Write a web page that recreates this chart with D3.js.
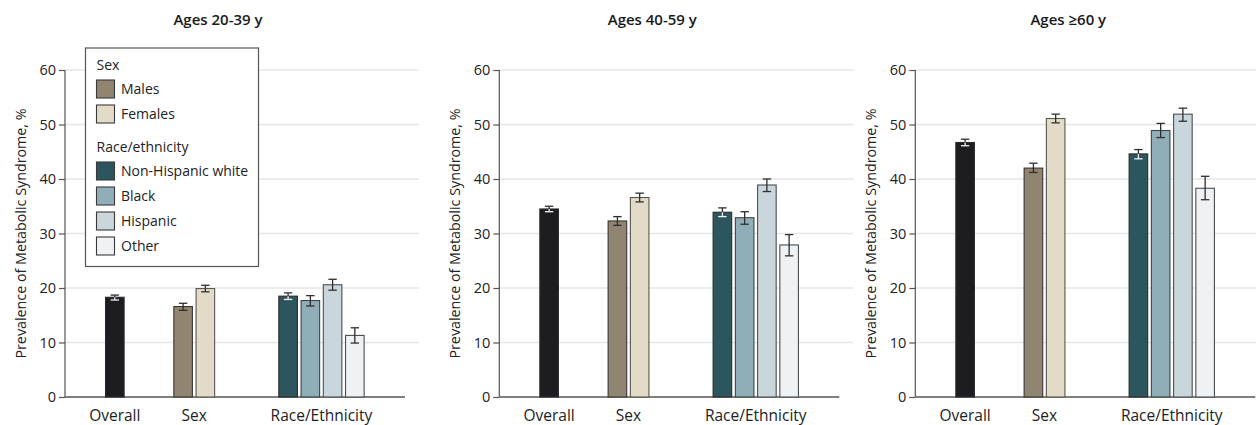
<!DOCTYPE html>
<html>
<head>
<meta charset="utf-8">
<script src="https://cdn.jsdelivr.net/npm/d3@7"></script>
<style>
  html, body { margin: 0; padding: 0; background: #fff; }
  svg { display: block; font-family: "Open Sans", sans-serif; }
</style>
</head>
<body>
<svg id="chart" width="1256" height="425"></svg>
<script>
// ---- data ----
const panelTitles = ["Ages 20-39 y", "Ages 40-59 y", "Ages \u226560 y"];
const categories = ["Overall", "Males", "Females", "Non-Hispanic white", "Black", "Hispanic", "Other"];
const categoryGroups = ["Overall", "Sex", "Sex", "Race/Ethnicity", "Race/Ethnicity", "Race/Ethnicity", "Race/Ethnicity"];
const groupLabels = ["Overall", "Sex", "Race/Ethnicity"];
const yTicks = [0, 10, 20, 30, 40, 50, 60];

const values20to39 = [18.3, 16.6, 19.9, 18.5, 17.7, 20.6, 11.3];
const lower20to39  = [17.8, 15.9, 19.3, 17.9, 16.7, 19.6, 9.9];
const upper20to39  = [18.7, 17.2, 20.5, 19.1, 18.6, 21.6, 12.7];

const values40to59 = [34.5, 32.3, 36.6, 33.9, 32.9, 38.9, 27.9];
const lower40to59  = [34.0, 31.5, 35.8, 33.1, 31.7, 37.7, 25.9];
const upper40to59  = [35.0, 33.1, 37.4, 34.7, 34.0, 40.0, 29.8];

const values60plus = [46.7, 42.0, 51.1, 44.6, 48.9, 51.9, 38.3];
const lower60plus  = [46.1, 41.2, 50.3, 43.7, 47.6, 50.6, 36.2];
const upper60plus  = [47.3, 42.9, 51.9, 45.4, 50.2, 53.0, 40.5];

const legendSexItems = ["Males", "Females"];
const legendRaceItems = ["Non-Hispanic white", "Black", "Hispanic", "Other"];

// ---- styles / layout ----
const colors = {
  "Overall": "#1d1c21",
  "Males": "#918470",
  "Females": "#e2dbc8",
  "Non-Hispanic white": "#2c555d",
  "Black": "#8faeb7",
  "Hispanic": "#c9d7dd",
  "Other": "#eef2f5"
};
const darkBars = new Set(["Overall", "Non-Hispanic white"]);
const strokeCol = { "Overall": "#2a2a2a", "Males": "#3a3630", "Females": "#5a5650", "Non-Hispanic white": "#2a2a2a", "Black": "#3d4447", "Hispanic": "#4a4f52", "Other": "#4a4c4e" };
const textCol = "#222";

const panelX = [65, 499.3, 915.3];
const plotW = 347;
const yTop = 70, yBottom = 397;
const slotCount = 15.6;
const groupStartSlot = { "Overall": 1.8, "Sex": 4.87, "Race/Ethnicity": 9.59 };
const barFrac = 0.88;

const panelData = [
  { values: values20to39, lower: lower20to39, upper: upper20to39 },
  { values: values40to59, lower: lower40to59, upper: upper40to59 },
  { values: values60plus, lower: lower60plus, upper: upper60plus }
];

const svg = d3.select("#chart");
const y = d3.scaleLinear().domain([0, 60]).range([yBottom, yTop]);
const xs = d3.scaleLinear().domain([0, slotCount]).range([0, plotW]);
const slotW = xs(1) - xs(0);
const barW = slotW * barFrac;

function slotOf(i) {
  const g = categoryGroups[i];
  const idx = categoryGroups.slice(0, i).filter(v => v === g).length;
  return groupStartSlot[g] + idx;
}

panelData.forEach((pd, p) => {
  const g = svg.append("g").attr("transform", `translate(${panelX[p]},0)`);

  // gridlines
  g.append("g").selectAll("line").data(yTicks.filter(t => t > 0)).join("line")
    .attr("x1", 0).attr("x2", plotW + 7)
    .attr("y1", d => y(d)).attr("y2", d => y(d))
    .attr("stroke", "#e6e6e6").attr("stroke-width", 1.5);

  // y axis
  const yAxis = d3.axisLeft(y).tickValues(yTicks).tickSize(6).tickPadding(3);
  const ya = g.append("g").call(yAxis);
  ya.select(".domain").attr("stroke", "#555").attr("stroke-width", 1.2).attr("d", `M0,${yTop}V${yBottom}`);
  ya.selectAll(".tick line").attr("stroke", "#555").attr("stroke-width", 1.2);
  ya.selectAll(".tick text").attr("fill", textCol).style("font-size", "14.5px").style("font-family", "Open Sans");

  // baseline
  g.append("line").attr("x1", 0).attr("x2", plotW - 7)
    .attr("y1", y(0)).attr("y2", y(0)).attr("stroke", "#555").attr("stroke-width", 1.5);

  // y label
  g.append("text")
    .attr("transform", `translate(-44,${(yTop + yBottom) / 2}) rotate(-90)`)
    .attr("text-anchor", "middle").attr("dy", "0.35em")
    .attr("fill", textCol).style("font-size", "14.3px")
    .text("Prevalence of Metabolic Syndrome, %");

  // title
  g.append("text").attr("x", 153).attr("y", 25).attr("text-anchor", "middle")
    .attr("fill", "#1a1a1a").style("font-size", "15px").style("font-weight", 600)
    .text(panelTitles[p]);

  // bars
  const rows = categories.map((c, i) => ({ c, i, v: pd.values[i], lo: pd.lower[i], hi: pd.upper[i], s: slotOf(i) }));
  g.append("g").selectAll("rect").data(rows).join("rect")
    .attr("x", d => xs(d.s) + 0.5)
    .attr("y", d => y(d.v))
    .attr("width", barW - 1)
    .attr("height", d => y(0) - y(d.v))
    .attr("fill", d => colors[d.c])
    .attr("stroke", d => strokeCol[d.c]).attr("stroke-width", 1.1);

  // error bars
  const eb = g.append("g").selectAll("g").data(rows).join("g")
    .attr("transform", d => `translate(${xs(d.s) + barW / 2},0)`);
  const capW = 4.2;
  eb.append("line").attr("x1", 0).attr("x2", 0)
    .attr("y1", d => y(d.hi)).attr("y2", d => y(d.v))
    .attr("stroke", "#2e2e2e").attr("stroke-width", 1.3);
  eb.append("line").attr("x1", 0).attr("x2", 0)
    .attr("y1", d => y(d.v)).attr("y2", d => y(d.lo))
    .attr("stroke", d => darkBars.has(d.c) ? "#f2f2f2" : "#2e2e2e").attr("stroke-width", 1.3);
  eb.append("line").attr("x1", -capW).attr("x2", capW)
    .attr("y1", d => y(d.hi)).attr("y2", d => y(d.hi))
    .attr("stroke", "#2e2e2e").attr("stroke-width", 1.3);
  eb.append("line").attr("x1", -capW).attr("x2", capW)
    .attr("y1", d => y(d.lo)).attr("y2", d => y(d.lo))
    .attr("stroke", d => darkBars.has(d.c) ? "#f2f2f2" : "#2e2e2e").attr("stroke-width", 1.3);

  // x group labels
  const groupCenters = groupLabels.map(gl => {
    const idxs = categories.map((c, i) => i).filter(i => categoryGroups[i] === gl);
    const x0 = xs(slotOf(idxs[0]));
    const x1 = xs(slotOf(idxs[idxs.length - 1])) + barW;
    return { gl, cx: (x0 + x1) / 2 };
  });
  g.append("g").selectAll("text").data(groupCenters).join("text")
    .attr("x", d => d.cx).attr("y", 420.5).attr("text-anchor", "middle")
    .attr("fill", textCol).style("font-size", "15.5px")
    .text(d => d.gl);
});

// ---- legend (in first panel) ----
const lg = svg.append("g").attr("transform", "translate(85.5,48)");
lg.append("rect").attr("width", 173).attr("height", 218.5)
  .attr("fill", "#fff").attr("stroke", "#555").attr("stroke-width", 1.2);
const lgFont = "14px";
lg.append("text").attr("x", 11).attr("y", 22).attr("fill", textCol).style("font-size", lgFont).text("Sex");
const sexRows = lg.append("g").selectAll("g").data(legendSexItems).join("g")
  .attr("transform", (d, i) => `translate(11,${32 + i * 25})`);
sexRows.append("rect").attr("width", 18).attr("height", 18)
  .attr("fill", d => colors[d]).attr("stroke", "#3a3a3a").attr("stroke-width", 1.1);
sexRows.append("text").attr("x", 24.5).attr("y", 9).attr("dy", "0.36em")
  .attr("fill", textCol).style("font-size", lgFont).text(d => d);

lg.append("text").attr("x", 11).attr("y", 104).attr("fill", textCol).style("font-size", lgFont).text("Race/ethnicity");
const raceRows = lg.append("g").selectAll("g").data(legendRaceItems).join("g")
  .attr("transform", (d, i) => `translate(11,${114 + i * 25})`);
raceRows.append("rect").attr("width", 18).attr("height", 18)
  .attr("fill", d => colors[d]).attr("stroke", "#3a3a3a").attr("stroke-width", 1.1);
raceRows.append("text").attr("x", 24.5).attr("y", 9).attr("dy", "0.36em")
  .attr("fill", textCol).style("font-size", lgFont).text(d => d);
</script>
</body>
</html>
